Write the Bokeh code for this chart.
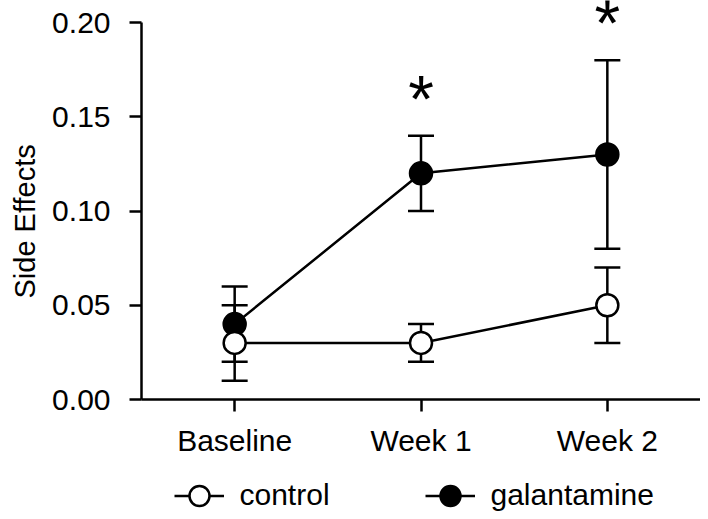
from bokeh.plotting import figure
from bokeh.layouts import column
from bokeh.models import (Range1d, FactorRange, FixedTicker, PrintfTickFormatter, Whisker,
                          ColumnDataSource, Label, Legend, LegendItem, TeeHead, Title)
from bokeh.embed import file_html
from bokeh.resources import INLINE

timepoints = ["Baseline", "Week 1", "Week 2"]
control_mean = [0.03, 0.03, 0.05]
control_lower = [0.01, 0.02, 0.03]
control_upper = [0.05, 0.04, 0.07]
galantamine_mean = [0.04, 0.12, 0.13]
galantamine_lower = [0.02, 0.10, 0.08]
galantamine_upper = [0.06, 0.14, 0.18]
significant = ["Week 1", "Week 2"]
y_ticks = [0.0, 0.05, 0.10, 0.15, 0.20]
y_title = "Side Effects"
series_names = ["control", "galantamine"]

FONT = "Liberation Sans"
LW = 2.5

p = figure(width=700, height=460, x_range=FactorRange(factors=timepoints, range_padding=0),
           y_range=Range1d(0, 0.2117), output_backend="svg", toolbar_location=None,
           min_border_left=141, min_border_right=0, min_border_top=0, min_border_bottom=61)
p.outline_line_color = None
p.xgrid.visible = False
p.ygrid.visible = False

for ax in (p.xaxis[0], p.yaxis[0]):
    ax.axis_line_width = LW
    ax.axis_line_color = "black"
    ax.major_tick_line_width = LW
    ax.major_tick_line_color = "black"
    ax.major_tick_out = 12
    ax.major_tick_in = 0
    ax.minor_tick_line_color = None
    ax.major_label_text_font = FONT
    ax.major_label_text_font_size = "30px"
    ax.major_label_text_color = "black"

p.yaxis[0].ticker = FixedTicker(ticks=y_ticks)
p.yaxis[0].formatter = PrintfTickFormatter(format="%.2f")
p.yaxis[0].bounds = (y_ticks[0], y_ticks[-1])
p.yaxis[0].major_label_standoff = 19
p.xaxis[0].major_label_standoff = 12

p.add_layout(Title(text=y_title, align="left", vertical_align="top", offset=101, standoff=14,
                   text_font=FONT, text_font_size="29px", text_font_style="normal",
                   text_color="black"), "left")

ctrl = ColumnDataSource(dict(x=timepoints, y=control_mean, lo=control_lower, hi=control_upper))
gal = ColumnDataSource(dict(x=timepoints, y=galantamine_mean, lo=galantamine_lower, hi=galantamine_upper))

for src in (gal, ctrl):
    w = Whisker(base="x", upper="hi", lower="lo", source=src, line_width=LW, line_color="black",
                upper_head=TeeHead(size=26, line_width=LW, line_color="black"),
                lower_head=TeeHead(size=26, line_width=LW, line_color="black"))
    p.add_layout(w)

p.line("x", "y", source=gal, line_width=LW, line_color="black")
p.line("x", "y", source=ctrl, line_width=LW, line_color="black")
p.scatter("x", "y", source=gal, size=22, marker="circle", fill_color="black",
          line_color="black", line_width=LW)
p.scatter("x", "y", source=ctrl, size=22, marker="circle", fill_color="white",
          line_color="black", line_width=LW)

# significance marks above galantamine error bars
for tp in significant:
    i = timepoints.index(tp)
    p.add_layout(Label(x=i + 0.5, y=galantamine_upper[i] + 0.0195, text="*", text_font=FONT,
                       text_font_size="66px", text_align="center", text_baseline="middle",
                       text_color="black"))

# legend strip below the chart (frames are aligned with the chart above)
lg = figure(width=700, height=51, x_range=Range1d(0, 1), y_range=Range1d(0, 1),
            output_backend="svg", toolbar_location=None, x_axis_type=None, y_axis_type=None,
            min_border_left=141, min_border_right=0, min_border_top=0, min_border_bottom=0)
lg.outline_line_color = None
lg.xgrid.visible = False
lg.ygrid.visible = False
nan = float("nan")
items = []
for name, fill in zip(series_names, ["white", "black"]):
    r1 = lg.line(x=[nan], y=[nan], line_width=LW, line_color="black")
    r2 = lg.scatter(x=[nan], y=[nan], marker="circle", fill_color=fill, line_color="black",
                    line_width=LW)
    items.append(LegendItem(label=name, renderers=[r1, r2]))
legend = Legend(items=items, orientation="horizontal", location=(32.5, -11.5), padding=0,
                margin=0, spacing=0, glyph_width=50, glyph_height=55, label_width=185,
                label_standoff=16, label_text_font=FONT, label_text_font_size="30px",
                label_text_color="black", border_line_alpha=0, background_fill_alpha=0)
lg.add_layout(legend)

layout = column(p, lg, spacing=0)
open("out.html", "w").write(file_html(layout, INLINE))
